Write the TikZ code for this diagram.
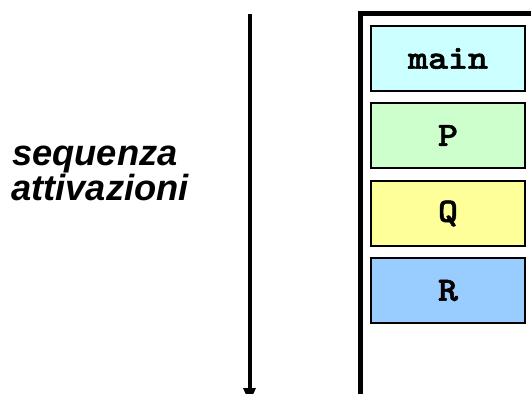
\documentclass[tikz,border=0pt]{standalone}
\usepackage{fontspec}
\setmainfont{Liberation Sans}
\newfontfamily\courb{lmmonolt10-bold.otf}[FakeBold=1.6,FakeStretch=1.12]
\usetikzlibrary{arrows.meta}
\definecolor{cmain}{HTML}{CCFFFF}
\definecolor{cP}{HTML}{CCFFCC}
\definecolor{cQ}{HTML}{FFFF99}
\definecolor{cR}{HTML}{99CCFF}
\tikzset{
  frame/.style={draw=black,line width=1.6pt,minimum width=154pt,minimum height=65pt,inner sep=0pt,
    font=\courb\fontsize{34}{34}\selectfont},
  label/.style={anchor=base west,inner sep=0pt,font=\bfseries\itshape\fontsize{36.3}{36}\selectfont},
  stackline/.style={line width=5pt,miter limit=10},
  seqarrow/.style={line width=4pt,-{Triangle[width=12pt,length=14pt]}}
}
\begin{document}
\begin{tikzpicture}[x=1pt,y=-1pt]
\useasboundingbox (0,0) rectangle (531,394);
% label
\node[label] (l1) at (12,165) {sequenza};
\node[label] (l2) at (11,200) {attivazioni};
% arrow
\coordinate (aTop) at (249.5,14);
\coordinate (aBot) at (249.5,402);
\draw[seqarrow] (aTop) -- (aBot);
% stack frame
\draw[stackline] (360.5,400) -- (360.5,13.5) -- (540,13.5);
% boxes
\node[frame,fill=cmain] (main) at (448,58.5) {main};
\node[frame,fill=cP] (P) at (448,135.5) {P};
\node[frame,fill=cQ] (Q) at (448,213.5) {Q};
\node[frame,fill=cR] (R) at (448,290.5) {R};
\end{tikzpicture}
\end{document}
